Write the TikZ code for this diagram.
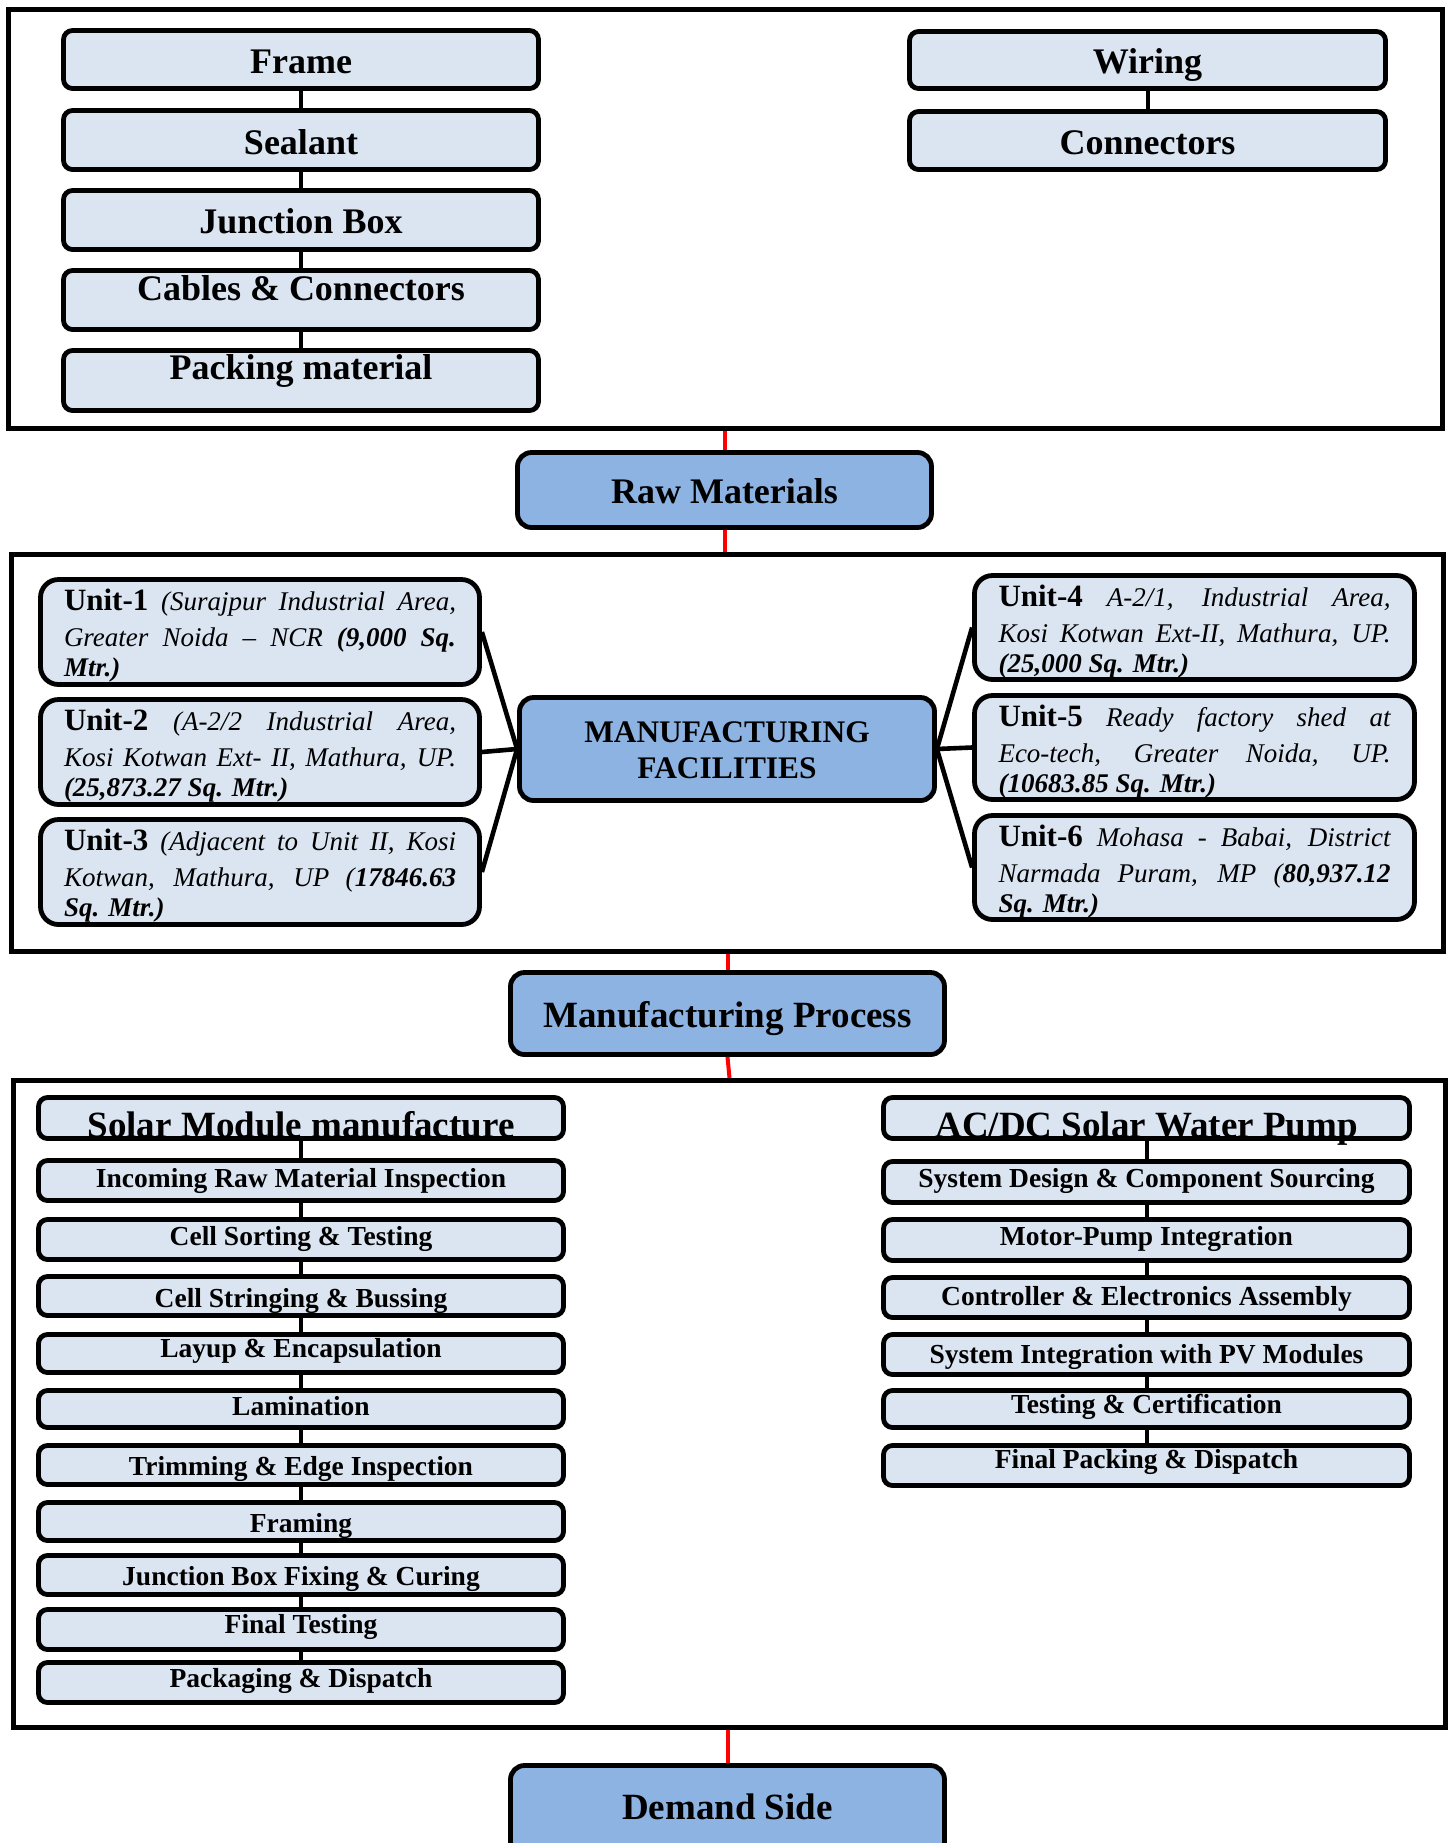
\documentclass[tikz,border=0pt]{standalone}
\usepackage{fontspec}
\setmainfont{Liberation Serif}
\definecolor{lite}{HTML}{DBE4F1}
\definecolor{mid}{HTML}{8DB3E2}
\newcommand\ftop{\fontsize{18pt}{21pt}\selectfont\bfseries}
\newcommand\fhead{\fontsize{18.5pt}{21pt}\selectfont\bfseries}
\newcommand\fstep{\fontsize{13.75pt}{16pt}\selectfont\bfseries}
\newcommand\fmf{\fontsize{15.7pt}{18pt}\selectfont\bfseries}
\newcommand\funit{\fontsize{13.5pt}{15pt}\selectfont\itshape}
\newcommand\ulab[1]{{\fontsize{15.5pt}{15pt}\selectfont\upshape\bfseries #1}}
\newcommand\gap{\vadjust{\vskip3pt}\linebreak}
\newcommand\bx[6]{\node[#1, minimum width={(#5-#3-5)*0.5pt}, minimum height={(#6-#4-5)*0.5pt}] (#2) at ({(#3+#5)/2},{(#4+#6)/2}) {};}
\newcommand\stp[8]{\bx{sbox}{#1}{#2}{#4}{#3}{#5}\node[lbl,font=#7] (#1T) at ({(#2+#3)/2},#6) {#8};}
\tikzset{
  outerbox/.style={draw, line width=2.5pt, rectangle, inner sep=0pt},
  sbox/.style={draw, line width=2.4pt, fill=lite, rounded corners=4.5pt, inner sep=0pt},
  ubox/.style={draw, line width=2.4pt, fill=lite, rounded corners=9pt, inner sep=0pt},
  hbox/.style={draw, line width=2.4pt, fill=mid, rounded corners=7pt, inner sep=0pt},
  lbl/.style={anchor=base, inner sep=0pt},
  utext/.style={anchor=north, inner sep=0pt, text width=196pt, align=justify, font=\funit},
  link/.style={line width=2pt},
  redlink/.style={line width=2pt, red},
  fan/.style={line width=2.3pt}
}
\begin{document}
\begin{tikzpicture}[x=0.5pt,y=-0.5pt]
\useasboundingbox (0,0) rectangle (1453,1843);
% outer frames
\bx{outerbox}{box1}{5.5}{6.5}{1445}{431}
\bx{outerbox}{box2}{8.5}{552}{1446}{954}
\bx{outerbox}{box3}{10.5}{1078}{1448}{1730}
% raw material items
\stp{frame}{61}{541}{28}{91}{73}{\ftop}{Frame}
\stp{sealant}{61}{541}{108}{172}{154}{\ftop}{Sealant}
\stp{jbox}{61}{541}{188}{252}{233}{\ftop}{Junction Box}
\stp{cables}{61}{541}{268}{332}{300}{\ftop}{Cables \& Connectors}
\stp{packing}{61}{541}{348}{413}{379}{\ftop}{Packing material}
\stp{wiring}{907}{1388}{29}{91}{73}{\ftop}{Wiring}
\stp{conn}{907}{1388}{109}{172}{154}{\ftop}{Connectors}
\foreach \a/\b in {frame/sealant,sealant/jbox,jbox/cables,cables/packing,wiring/conn}
  \draw[link] (\a.south) -- (\b.north);
% headers
\bx{hbox}{raw}{515}{450}{934}{530}
\node[lbl,font=\ftop] (rawT) at (724.5,503) {Raw Materials};
\bx{hbox}{mf}{517}{695}{937}{803}
\node[lbl,font=\fmf] (mfT1) at (727,742) {MANUFACTURING};
\node[lbl,font=\fmf] (mfT2) at (727,778) {FACILITIES};
\bx{hbox}{mp}{508}{970}{947}{1057}
\node[lbl,font=\fhead] (mpT) at (727.5,1027) {Manufacturing Process};
\bx{hbox}{demand}{508}{1763}{947}{1865}
\node[lbl,font=\fhead] (demandT) at (727.5,1819) {Demand Side};
% units
\bx{ubox}{u1}{38}{577}{482}{687}
\bx{ubox}{u2}{38}{697}{482}{807}
\bx{ubox}{u3}{38}{817}{482}{927}
\bx{ubox}{u4}{972}{573}{1417}{682}
\bx{ubox}{u5}{972}{693}{1417}{802}
\bx{ubox}{u6}{972}{813}{1417}{922}
\node[utext] (u1T) at (260,588.5) {\ulab{Unit-1} (Surajpur Industrial Area,\gap Greater Noida – NCR \textbf{(9,000 Sq.}\linebreak \textbf{Mtr.)}};
\node[utext] (u2T) at (260,708.5) {\ulab{Unit-2} (A-2/2 Industrial Area,\gap Kosi Kotwan Ext- II, Mathura, UP.\linebreak \textbf{(25,873.27 Sq. Mtr.)}};
\node[utext] (u3T) at (260,828.5) {\ulab{Unit-3} (Adjacent to Unit II, Kosi\gap Kotwan, Mathura, UP (\textbf{17846.63}\linebreak \textbf{Sq. Mtr.)}};
\node[utext] (u4T) at (1194.5,584.5) {\ulab{Unit-4} A-2/1, Industrial Area,\gap Kosi Kotwan Ext-II, Mathura, UP.\linebreak \textbf{(25,000 Sq. Mtr.)}};
\node[utext] (u5T) at (1194.5,704.5) {\ulab{Unit-5} Ready factory shed at\gap Eco-tech, Greater Noida, UP.\linebreak \textbf{(10683.85 Sq. Mtr.)}};
\node[utext] (u6T) at (1194.5,824.5) {\ulab{Unit-6} Mohasa - Babai, District\gap Narmada Puram, MP (\textbf{80,937.12}\linebreak \textbf{Sq. Mtr.)}};
\foreach \u in {u1,u2,u3} \draw[fan] (mf.west) -- (\u.east);
\foreach \u in {u4,u5,u6} \draw[fan] (mf.east) -- (\u.west);
% process steps left
\stp{L0}{36}{566}{1095}{1141}{1137}{\fhead}{Solar Module manufacture}
\stp{L1}{36}{566}{1158}{1203}{1187}{\fstep}{Incoming Raw Material Inspection}
\stp{L2}{36}{566}{1217}{1262}{1245}{\fstep}{Cell Sorting \& Testing}
\stp{L3}{36}{566}{1274}{1318}{1307}{\fstep}{Cell Stringing \& Bussing}
\stp{L4}{36}{566}{1332}{1375}{1357}{\fstep}{Layup \& Encapsulation}
\stp{L5}{36}{566}{1388}{1430}{1415}{\fstep}{Lamination}
\stp{L6}{36}{566}{1443}{1487}{1475}{\fstep}{Trimming \& Edge Inspection}
\stp{L7}{36}{566}{1500}{1543}{1532}{\fstep}{Framing}
\stp{L8}{36}{566}{1553}{1597}{1585}{\fstep}{Junction Box Fixing \& Curing}
\stp{L9}{36}{566}{1607}{1652}{1633}{\fstep}{Final Testing}
\stp{L10}{36}{566}{1660}{1705}{1687}{\fstep}{Packaging \& Dispatch}
% process steps right
\stp{R0}{881}{1412}{1095}{1141}{1137}{\fhead}{AC/DC Solar Water Pump}
\stp{R1}{881}{1412}{1159}{1205}{1187}{\fstep}{System Design \& Component Sourcing}
\stp{R2}{881}{1412}{1217}{1263}{1245}{\fstep}{Motor-Pump Integration}
\stp{R3}{881}{1412}{1275}{1320}{1305}{\fstep}{Controller \& Electronics Assembly}
\stp{R4}{881}{1412}{1332}{1377}{1363}{\fstep}{System Integration with PV Modules}
\stp{R5}{881}{1412}{1388}{1430}{1413}{\fstep}{Testing \& Certification}
\stp{R6}{881}{1412}{1443}{1488}{1468}{\fstep}{Final Packing \& Dispatch}
\foreach \a/\b in {L0/L1,L1/L2,L2/L3,L3/L4,L4/L5,L5/L6,L6/L7,L7/L8,L8/L9,L9/L10,R0/R1,R1/R2,R2/R3,R3/R4,R4/R5,R5/R6}
  \draw[link] (\a.south) -- (\b.north);
% red flow links
\draw[redlink] (raw.north) -- (raw.north |- box1.south);
\draw[redlink] (raw.south) -- (raw.south |- box2.north);
\draw[redlink] (mp.north) -- (mp.north |- box2.south);
\draw[redlink] (mp.south) -- ([xshift=1pt]mp.south |- box3.north);
\draw[redlink] (demand.north) -- (demand.north |- box3.south);
\end{tikzpicture}
\end{document}
